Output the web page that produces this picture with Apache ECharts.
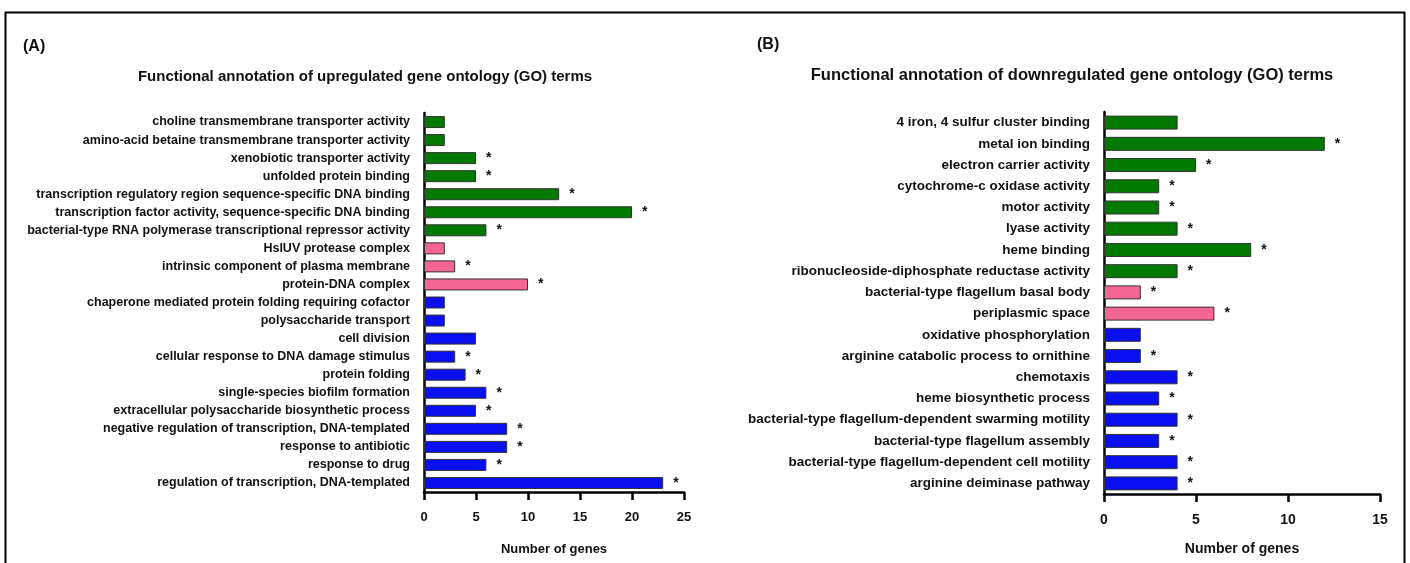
<!DOCTYPE html>
<html><head><meta charset="utf-8">
<script src="https://cdn.jsdelivr.net/npm/echarts@6/dist/echarts.min.js"></script>
<style>html,body{margin:0;padding:0;background:#fff}#c{width:1410px;height:563px}</style>
</head><body><div id="c"></div>
<script>
// Panel A: upregulated
const catsA = [
 "choline transmembrane transporter activity",
 "amino-acid betaine transmembrane transporter activity",
 "xenobiotic transporter activity",
 "unfolded protein binding",
 "transcription regulatory region sequence-specific DNA binding",
 "transcription factor activity, sequence-specific DNA binding",
 "bacterial-type RNA polymerase transcriptional repressor activity",
 "HslUV protease complex",
 "intrinsic component of plasma membrane",
 "protein-DNA complex",
 "chaperone mediated protein folding requiring cofactor",
 "polysaccharide transport",
 "cell division",
 "cellular response to DNA damage stimulus",
 "protein folding",
 "single-species biofilm formation",
 "extracellular polysaccharide biosynthetic process",
 "negative regulation of transcription, DNA-templated",
 "response to antibiotic",
 "response to drug",
 "regulation of transcription, DNA-templated"
];
const valsA = [2,2,5,5,13,20,6,2,3,10,2,2,5,3,4,6,5,8,8,6,23];
const groupA = ["MF","MF","MF","MF","MF","MF","MF","CC","CC","CC","BP","BP","BP","BP","BP","BP","BP","BP","BP","BP","BP"];
const starA = [0,0,1,1,1,1,1,0,1,1,0,0,0,1,1,1,1,1,1,1,1];
const ticksA = [0,5,10,15,20,25];

// Panel B: downregulated
const catsB = [
 "4 iron, 4 sulfur cluster binding",
 "metal ion binding",
 "electron carrier activity",
 "cytochrome-c oxidase activity",
 "motor activity",
 "lyase activity",
 "heme binding",
 "ribonucleoside-diphosphate reductase activity",
 "bacterial-type flagellum basal body",
 "periplasmic space",
 "oxidative phosphorylation",
 "arginine catabolic process to ornithine",
 "chemotaxis",
 "heme biosynthetic process",
 "bacterial-type flagellum-dependent swarming motility",
 "bacterial-type flagellum assembly",
 "bacterial-type flagellum-dependent cell motility",
 "arginine deiminase pathway"
];
const valsB = [4,12,5,3,3,4,8,4,2,6,2,2,4,3,4,3,4,4];
const groupB = ["MF","MF","MF","MF","MF","MF","MF","MF","CC","CC","BP","BP","BP","BP","BP","BP","BP","BP"];
const starB = [0,1,1,1,1,1,1,1,1,1,0,1,1,1,1,1,1,1];
const ticksB = [0,5,10,15];

const titleA = "Functional annotation of upregulated gene ontology (GO) terms";
const titleB = "Functional annotation of downregulated gene ontology (GO) terms";
const xName = "Number of genes";

const COLORS = {MF:"#027a02", CC:"#f46592", BP:"#0a0ff0"};
const FONT = "Liberation Sans Narrow, Liberation Sans, Arial, sans-serif";

function barData(vals, groups){
  return vals.map((v,i)=>({value:v, itemStyle:{color:COLORS[groups[i]]}}));
}
function yAxis(cats, idx, fs){
  return {type:'category', gridIndex:idx, data:cats, inverse:true,
    axisLine:{lineStyle:{color:'#000', width:2.5}},
    axisTick:{alignWithLabel:true, length:6, lineStyle:{color:'#000', width:2.5}},
    axisLabel:{color:'#111', fontFamily:FONT, fontWeight:'bold', fontSize:fs, margin:14}};
}
function xAxis(idx, ticks, fs, gap){
  return {type:'value', gridIndex:idx, min:ticks[0], max:ticks[ticks.length-1], interval:5,
    name:xName, nameLocation:'middle', nameGap:gap,
    nameTextStyle:{color:'#111', fontFamily:FONT, fontWeight:'bold', fontSize:fs},
    splitLine:{show:false},
    axisLine:{show:true, lineStyle:{color:'#000', width:2.5}},
    axisTick:{show:true, length:8, lineStyle:{color:'#000', width:2.5}},
    axisLabel:{color:'#111', fontFamily:FONT, fontWeight:'bold', fontSize:fs, margin:19}};
}
function series(vals, groups, stars, idx, bw){
  return {type:'bar', xAxisIndex:idx, yAxisIndex:idx, data:barData(vals,groups), barWidth:bw,
    itemStyle:{borderColor:'#333', borderWidth:1},
    label:{show:true, position:'right', distance:10, color:'#111', fontFamily:FONT, fontWeight:'bold', fontSize:14,
      formatter:(p)=> stars[p.dataIndex] ? '*' : ''},
    animation:false};
}

const chart = echarts.init(document.getElementById('c'));
chart.setOption({
  animation:false,
  backgroundColor:'#fff',
  title:[
    {text:'(A)', left:18, top:34, textStyle:{fontFamily:FONT, fontWeight:'bold', fontSize:16, color:'#111'}},
    {text:titleA, left:360, top:64, textAlign:'center', textStyle:{fontFamily:FONT, fontWeight:'bold', fontSize:15, color:'#111'}},
    {text:'(B)', left:752, top:32, textStyle:{fontFamily:FONT, fontWeight:'bold', fontSize:16, color:'#111'}},
    {text:titleB, left:1067, top:62, textAlign:'center', textStyle:{fontFamily:FONT, fontWeight:'bold', fontSize:16.5, color:'#111'}}
  ],
  grid:[
    {left:424, right:726, top:113, bottom:71},
    {left:1104, right:30, top:112, bottom:69}
  ],
  xAxis:[xAxis(0,ticksA,13,51), xAxis(1,ticksB,14,48)],
  yAxis:[yAxis(catsA,0,12.5), yAxis(catsB,1,13.5)],
  series:[series(valsA,groupA,starA,0,12), series(valsB,groupB,starB,1,14)],
  graphic:[{type:'rect', shape:{x:5.5, y:12.5, width:1399, height:560}, style:{fill:null, stroke:'#000', lineWidth:2}, silent:true}]
});
</script></body></html>
